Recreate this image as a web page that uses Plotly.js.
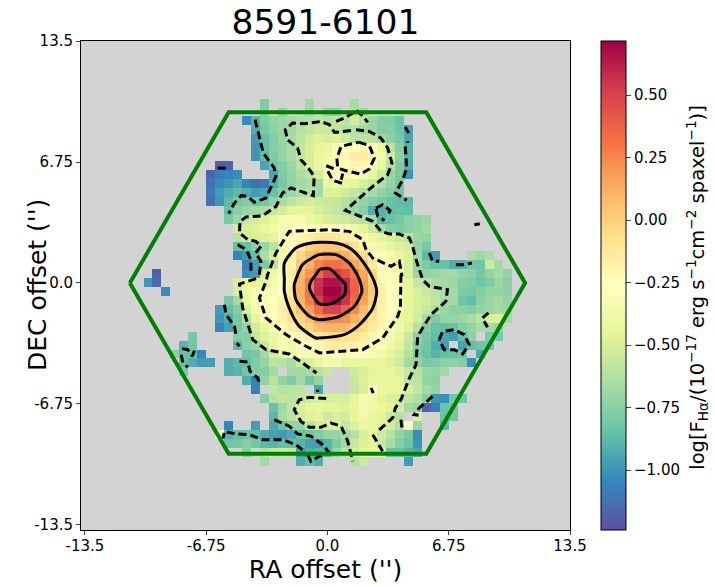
<!DOCTYPE html>
<html>
<head>
<meta charset="utf-8">
<script src="https://cdn.plot.ly/plotly-3.0.1.min.js"></script>
<style>body { margin: 0; background: #fff; }</style>
</head>
<body>
<div id="graph"></div>
<script>
const n = null;

const plateTitle = '8591-6101';
const tickVals = [-13.5, -6.75, 0, 6.75, 13.5];
const xTickText = ['-13.5', '-6.75', '0.0', '6.75', '13.5'];
const yTickText = ['-13.5', '-6.75', '0.0', '6.75', '13.5'];
const barTicks = [-1, -0.75, -0.5, -0.25, 0, 0.25, 0.5];

// spaxel centres in arcsec
const firstX = -13.49;
const firstY = 13.04;
const spaxel = 0.5;
const firstRow = 6;

// first column of each row, from row 6 down
const rowStart = [20, 20, 18, 19, 19, 19, 19, 15, 14, 14, 14, 14, 16, 16, 17, 17, 17, 17, 18, 8, 7, 9, 16, 15, 15, 15, 12, 11, 10, 11, 11, 18, 19, 20, 21, 21, 16, 15, 16, 18, 20];

// log Halpha flux, read by eye from the colours
const rowValues = [
  [-0.78, n, n, n, n, -0.68, n, n, n, n, -0.66],
  [-0.76, n, -0.72, n, n, -0.7, n, -0.74, -0.74, n, -0.62, -0.7],
  [-1.03, -0.9, -0.78, -0.72, -0.7, -0.68, -0.64, -0.62, -0.6, -0.62, -0.58, -0.6, -0.52, -0.6, -0.7, -0.76, -0.78, -0.84],
  [-0.92, -0.8, -0.74, -0.7, -0.68, -0.62, -0.58, -0.55, -0.55, -0.58, -0.62, -0.62, -0.68, -0.7, -0.76, -0.76, -0.82, -0.95],
  [-0.98, -0.85, -0.76, -0.7, -0.66, -0.6, -0.52, -0.48, -0.5, -0.48, -0.55, -0.6, -0.6, -0.62, -0.68, -0.74, -0.8, -0.95],
  [-1.0, -0.85, -0.76, -0.72, -0.66, -0.58, -0.5, -0.45, -0.42, -0.34, -0.26, -0.22, -0.22, -0.28, -0.42, -0.6, -0.76, -0.9],
  [-1.0, -0.88, -0.78, -0.72, -0.66, -0.58, -0.5, -0.42, -0.38, -0.3, -0.22, -0.14, -0.14, -0.22, -0.36, -0.55, -0.74, -0.9],
  [-1.2, -1.18, n, n, n, -0.95, -0.82, -0.76, -0.7, -0.6, -0.5, -0.42, -0.34, -0.3, -0.24, -0.2, -0.22, -0.3, -0.42, -0.62, -0.78, -0.92],
  [-1.17, -1.08, -1.05, -1.03, n, n, n, -0.95, -0.78, -0.72, -0.65, -0.6, -0.52, -0.36, -0.3, -0.32, -0.34, -0.36, -0.44, -0.55, -0.7, -0.8, -1.0],
  [-1.12, -1.03, -1.0, -0.95, -1.05, -1.12, -1.1, -0.92, -0.8, -0.72, -0.68, -0.65, -0.68, -0.42, -0.38, -0.42, -0.46, -0.5, -0.55, -0.64, -0.72, -0.8],
  [-1.1, -0.98, -0.92, -0.88, -0.92, -0.98, -0.95, -0.85, -0.75, -0.7, -0.65, -0.62, -0.68, -0.48, -0.48, -0.52, -0.58, -0.62, -0.68, -0.72, -0.76, -0.82],
  [-1.13, -1.0, -0.88, -0.8, -0.78, -0.82, -0.8, -0.72, -0.66, -0.6, -0.55, -0.52, -0.54, -0.56, -0.58, -0.62, -0.68, -0.72, -0.76, -0.8, -0.84, -0.86, -0.88],
  [-0.85, -0.75, -0.7, -0.68, -0.65, -0.58, -0.52, -0.46, -0.44, -0.46, -0.5, -0.55, -0.58, -0.62, -0.7, -0.75, -0.92, -0.9, -0.86, -0.85, -0.86],
  [-0.8, -0.7, -0.56, -0.52, -0.48, -0.42, -0.34, -0.32, -0.34, -0.4, -0.46, -0.5, -0.52, -0.54, -0.58, -0.62, -0.68, -0.9, -0.85, -0.8, -0.75, -0.72, -0.7],
  [-0.52, -0.5, -0.48, -0.44, -0.38, -0.34, -0.3, -0.28, -0.28, -0.27, -0.26, -0.26, -0.3, -0.38, -0.46, -0.56, -0.68, -0.76, -0.78, -0.75, -0.72, -0.68],
  [-0.6, -0.52, -0.5, -0.48, -0.45, -0.34, -0.26, -0.2, -0.16, -0.1, -0.1, -0.12, -0.16, -0.2, -0.3, -0.42, -0.45, -0.5, -0.55, -0.6, -0.7, -0.72],
  [-0.85, -0.85, -0.75, -0.7, -0.6, -0.38, -0.24, -0.14, -0.02, 0.02, 0.05, 0.03, 0, -0.08, -0.18, -0.34, -0.38, -0.44, -0.48, -0.5, -0.72, -0.8],
  [-1.05, -0.98, -0.85, -0.65, -0.52, -0.35, -0.2, -0.04, 0.07, 0.13, 0.17, 0.16, 0.13, 0.05, -0.06, -0.24, -0.28, -0.34, -0.42, -0.48, -0.7, -0.88, -0.98, n, n, n, -0.65, -0.68, -0.65],
  [-1.08, -0.96, -0.78, -0.6, -0.32, -0.18, 0.02, 0.12, 0.26, 0.32, 0.32, 0.28, 0.16, 0.05, -0.12, -0.26, -0.3, -0.38, -0.5, -0.7, -0.78, -0.85, -0.85, -0.92, -0.9, -0.82, -0.82, -0.55, -0.68],
  [-1.18, n, n, n, n, n, n, n, n, n, -1.03, -0.98, -0.5, -0.4, -0.3, -0.16, 0.08, 0.2, 0.34, 0.52, 0.52, 0.44, 0.3, 0.15, -0.04, -0.24, -0.3, -0.36, -0.5, -0.7, -0.72, -0.7, -0.68, -0.68, -0.72, -0.74, -0.8, -0.72, -0.68, -0.72],
  [-1.0, -1.15, n, n, n, n, n, n, n, n, -0.5, -0.42, -0.45, -0.42, -0.36, -0.3, -0.18, 0.1, 0.28, 0.56, 0.66, 0.66, 0.58, 0.36, 0.18, 0, -0.2, -0.28, -0.32, -0.44, -0.56, -0.62, -0.66, -0.68, -0.7, -0.76, -0.78, -0.82, -0.78, -0.7, -0.75],
  [-1.03, n, n, n, n, n, n, n, -0.52, -0.4, -0.34, -0.34, -0.32, -0.26, -0.14, 0.12, 0.3, 0.58, 0.71, 0.71, 0.6, 0.38, 0.2, 0.02, -0.16, -0.26, -0.34, -0.42, -0.5, -0.56, -0.6, -0.66, -0.68, -0.78, -0.8, -0.76, -0.72, -0.72, -0.74],
  [-0.8, -0.68, -0.42, -0.32, -0.3, -0.26, -0.2, -0.1, 0.1, 0.28, 0.52, 0.66, 0.68, 0.56, 0.34, 0.16, 0, -0.16, -0.26, -0.36, -0.46, -0.5, -0.52, -0.58, -0.66, -0.68, -0.82, -0.86, -0.74, -0.7, -0.68, -0.72],
  [-0.98, -0.86, -0.76, -0.5, -0.36, -0.32, -0.24, -0.16, -0.08, 0.04, 0.18, 0.34, 0.5, 0.5, 0.38, 0.24, 0.08, -0.04, -0.18, -0.28, -0.36, -0.44, -0.5, -0.56, -0.64, -0.7, -0.74, -0.74, -0.76, -0.72, -0.7, -0.68, -0.7],
  [-1.0, -0.92, -0.8, -0.62, -0.46, -0.36, -0.28, -0.18, -0.1, -0.04, 0.06, 0.2, 0.24, 0.24, 0.22, 0.12, 0.02, -0.1, -0.2, -0.3, -0.4, -0.44, -0.52, -0.66, -0.78, -0.72, -0.72, -0.7, -0.66, -0.6, -0.5, -0.48, -0.66],
  [-1.05, -0.96, -0.8, -0.72, -0.52, -0.44, -0.34, -0.24, -0.16, -0.1, -0.02, 0.06, 0.1, 0.1, 0.08, 0.02, -0.06, -0.14, -0.2, -0.32, -0.38, -0.48, -0.62, -0.76, -0.84, -0.86, -0.84, -0.76, -0.72, -0.66, -0.66, -0.72],
  [-0.8, n, n, n, n, -0.76, -0.76, -0.56, -0.48, -0.4, -0.32, -0.26, -0.2, -0.16, -0.1, -0.06, -0.04, -0.08, -0.1, -0.14, -0.2, -0.26, -0.34, -0.42, -0.56, -0.74, -0.8, -0.86, -0.94, -0.98, -0.86, -0.74, n, -0.78, -0.8],
  [-0.9, -0.82, n, n, n, n, -0.88, -0.74, -0.7, -0.54, -0.42, -0.34, -0.36, -0.28, -0.26, -0.22, -0.16, -0.14, -0.16, -0.18, -0.2, -0.24, -0.3, -0.38, -0.46, -0.58, -0.76, -0.82, -0.92, -0.98, n, -0.96, -0.86, -0.82, -0.82],
  [-0.75, -0.85, -0.84, -1.05, n, n, n, n, -0.82, -0.8, -0.68, -0.52, -0.44, -0.38, -0.34, -0.32, -0.3, -0.26, -0.26, -0.28, -0.28, -0.3, -0.32, -0.36, -0.44, -0.5, -0.62, -0.78, -0.84, -0.9, -0.86, -0.84, -0.82, n, -0.95],
  [-0.85, -0.92, -0.98, -0.98, n, -0.92, -0.88, -0.86, -0.78, -0.72, -0.6, -0.62, -0.66, -0.54, -0.5, -0.42, -0.36, -0.36, -0.44, -0.44, -0.42, -0.42, -0.44, -0.48, -0.54, -0.68, -0.72, -0.8, -0.78, -0.74, -0.74, -0.76, -1.02],
  [-0.78, n, n, n, n, -0.92, -0.9, -0.82, -0.76, -0.76, -0.68, n, -0.68, -0.68, -0.66, -0.62, -0.56, n, n, -0.54, -0.5, -0.46, -0.44, -0.44, -0.48, -0.56, -0.62, -0.7, -0.72, -0.68],
  [-0.92, -1.05, -0.72, -0.62, -0.72, -0.78, -0.68, -0.82, -0.72, n, n, n, -0.56, -0.48, -0.42, -0.42, -0.44, -0.44, -0.58, -0.6, -0.72, -0.74],
  [-1.08, n, -0.58, -0.62, -0.6, -0.6, n, -0.95, n, n, n, -0.56, -0.5, -0.28, -0.42, -0.42, -0.44, -0.5, -0.58, -0.68, -0.72],
  [-0.76, -0.62, -0.58, -0.6, -0.56, -0.52, -0.5, -0.5, -0.5, -0.5, -0.44, -0.34, -0.38, -0.46, -0.5, -0.52, -0.58, -0.64, -0.76, -1.0, -1.02, -0.8, -0.82],
  [-0.84, -0.68, -0.58, -0.5, -0.44, -0.42, -0.46, -0.46, -0.48, -0.44, -0.36, -0.38, -0.42, -0.46, -0.52, -0.68, -0.7, -1.18, -1.08, -0.84, -0.82],
  [-0.88, -0.66, -0.6, -0.52, -0.48, -0.46, -0.54, -0.5, -0.52, -0.42, -0.38, -0.42, -0.46, -0.54, -0.62, n, -0.5, n, n, -0.84, -0.82],
  [-1.05, n, n, -0.98, n, -0.94, -0.84, -0.72, -0.72, -0.6, -0.52, -0.5, -0.48, -0.58, -0.48, -0.42, -0.44, -0.46, -0.52, -0.62, -0.28, -0.7, n, n, -0.88],
  [-0.32, -0.9, -0.86, -0.84, -0.86, -0.92, -0.96, -0.98, -0.94, -0.84, -0.82, -0.78, -0.72, -0.72, -0.68, -0.62, -0.5, -0.44, -0.54, -0.62, -0.72, -0.8, -1.02],
  [-0.82, -0.8, -0.76, -0.82, -0.88, -0.9, -0.86, -0.86, -0.9, -0.96, -0.98, -0.9, -0.78, -0.68, -0.56, -0.48, -0.46, -0.56, -0.66, -0.76, -0.84, -1.0],
  [-0.74, n, -0.62, -0.56, -0.54, -0.56, -0.98, -0.92, -0.9, -0.9, -0.7, -0.6, -0.5, -0.46, -0.42, -0.44, -0.85, -0.85, -0.9, -0.95],
  [-0.68, n, n, n, -0.92, -0.86, -0.92, n, n, n, -0.62, -0.55, n, n, n, n, -0.98]
];

// contour lines, in arcsec, null breaks the line
const dashedX = [
  -4.03, -3.79, -3.57, -2.96, -2.87, -3.42, -4.07, -4.44, -4.81, -5.18, -5.5, n,
  -3.79, -3.7, -4.01, -3.7, -3.98, -4.44, -4.9, -4.87, -4.53, -3.61, -2.87, -2.5, -2.03, -0.79, -0.74, -1.11, -1.48, -1.66, -2.22, -2.35, -1.94, -1.29, -0.37, 0.11, 0.39, 1.37, n,
  0.48, 0.94, 1.41, 1.56, 1.96, 2.24, n,
  1.59, 2.33, 2.98, 3.35, 3.59, 3.35, 2.52, 1.68, 1, 2.52, 2.98, 3.44, 4, 4.56, 4.74, 4.93, 5.2, 5.3, 5.67, 6.68, 6.59, 5.76, 5.3, 5.02, 4.93, 4.56, 4.09, 3.78, 3.63, 2.8, n,
  2.52, 3.07, n, 4.09, 4.15, n, 5.85, 5.11, 4.83, 5.07, n,
  1.74, 2.33, 2.61, 2.33, 1.87, 1.13, 0.57, 0.52, 0.76, 1.74, n,
  -0.07, 0.39, n, 0.02, 0.3, 0.94, n, 0.76, 0.85, n,
  2.7, 3.07, 3.48, 3.35, n, 2.7, 2.8, 3.17, n,
  4.33, 4.52, n, 4.46, 4.47, n, 4.33, 4.41, 4.19, 3.78, 4.41, n,
  8.17, 8.48, n, 5.67, 5.85, 6.22, n, 7.15, 7.52, 8.04, n,
  8.63, 8.96, n, 8.72, 8.91, n,
  6.22, 6.41, 7.06, 7.61, 7.89, 7.52, 7.06, 6.5, 6.22, n,
  2.43, 2.55, n,
  4.09, 4.06, 3.91, 3.07, 1.96, -0.45, -1.2, -2.31, -3.42, -3.79, -3.42, -3.33, -2.87, -2.13, 0.1, 1.22, 1.96, 2.15, 2.52, 3.54, 4, 4.15, 4.09, n,
  -5, -4.53, -4.26, -4.26, n,
  -3.98, -4.9, -4.72, -4.35, -4.16, -3.42, -2.13, -1.39, -0.61, n,
  -5.74, -5.64, -5.18, -5.09, n, -5.05, -4.9, n,
  -4.9, -4.44, -4.31, -3.89, -3.79, n,
  -8.09, -7.77, -7.53, -7.4, n, -8.14, -8.05, -7.77, n,
  -2.96, -2.13, -1.66, -0.92, -0.27, 0.1, n,
  -0.07, -1.01, -1.57, -1.85, -1.48, -1.01, -0.37, 0.2, 0.76, 1.13, 1.41, n,
  -5.61, -5.09, -4.35, -3.61, -2.5, -1.76, -1.39, n, -5.74, -5.83, n,
  -1.11, -0.92, -0.46, 0.1, n,
  -6.11, -5.46, n, -0.55, -0.55
];
const dashedY = [
  9.11, 8.18, 7.25, 6.41, 5.95, 4.74, 4.5, 4.83, 4.87, 4.46, 3.87, n,
  0.46, 1.21, 1.67, 2.04, 2.32, 2.42, 2.79, 3.44, 3.68, 3.75, 4.27, 5.02, 5.3, 4.87, 5.95, 6.47, 6.88, 7.53, 7.99, 8.55, 8.92, 8.88, 9.01, 8.83, 8.4, 8.51, n,
  9.01, 9.2, 9.48, 9.66, 9.33, 8.96, n,
  8.55, 8.46, 8.08, 7.53, 6.69, 6.04, 5.39, 4.65, 4.05, 3.44, 2.88, 2.73, 2.73, 2.51, 2.04, 1.3, 0.46, 0.18, -0.19, -0.37, -1.02, -1.77, -2.51, -2.98, -4.56, -5.3, -6.51, -6.97, -7.53, -8.27, n,
  -8.46, -9.39, n, -7.62, -8.12, n, -6.32, -6.97, -7.34, -7.38, n,
  7.86, 7.66, 6.97, 6.36, 6.08, 6.23, 6.41, 6.97, 7.62, 7.86, n,
  6.54, 6.36, n, 6.23, 5.72, 5.52, n, 5.76, 6.1, n,
  4.18, 4.37, 4.05, 3.75, n, 4.13, 3.72, 3.49, n,
  8.7, 8.36, n, 7.9, 7.82, n, 7.62, 6.41, 5.76, 5.02, 4.61, n,
  3.25, 3.31, n, 1.67, 1.21, 1.21, n, 1.02, 1.02, 1.11, n,
  -1.95, -1.67, n, -2.14, -2.47, n,
  -3.16, -2.7, -2.6, -2.88, -3.44, -3.96, -3.72, -3.72, -3.16, n,
  -5.86, -6.14, n,
  0.46, -1.4, -1.86, -3.07, -3.72, -3.9, -3.53, -2.88, -1.95, -0.84, 0.09, 0.46, 1.67, 2.88, 2.97, 2.88, 2.42, 1.86, 1.39, 0.93, 1.21, 0.37, 0.46, n,
  2.14, 1.86, 1.3, 0.46, n,
  0.24, -0.06, -1.4, -2.51, -3.16, -3.72, -3.96, -4.46, -5.02, n,
  -1.21, -1.77, -2.42, -2.88, n, -3.35, -3.53, n,
  -4.37, -4.41, -4.93, -5.3, -5.58, n,
  -3.66, -3.72, -4.09, -3.77, n, -4, -4.46, -4.7, n,
  -7.62, -7.99, -8.42, -8.55, -9.02, -9.48, n,
  -6.45, -6.38, -6.51, -7.07, -7.72, -8.05, -8.05, -7.81, -7.99, -8.83, -9.95, n,
  -8.31, -8.42, -8.46, -8.74, -8.74, -9.02, -9.3, n, -8.37, -8.68, n,
  -9.57, -9.95, -9.67, -9.48, n,
  6.41, 6.41, n, -5.95, -6.08
];
const solidX = [
  -2.4, -2.4, -1.76, -1.11, -0.45, 0.48, 1.31, 1.96, 2.52, 2.74, 2.52, 1.78, 0.94, -0.45, -0.64, -1.57, -2.13, -2.4, -2.4, n,
  -1.76, -1.39, -0.46, 0.48, 1.22, 1.74, 1.91, 1.5, 0.67, -0.45, -1.01, -1.76, -1.85, -1.76, n,
  -0.45, 0.11, 0.67, 1, 0.94, 0.3, -0.45, -1.01, -0.92, -0.64, -0.45
];
const solidY = [
  0.19, 1.11, 1.95, 2.19, 2.27, 2.23, 1.9, 1.21, 0.28, -0.47, -1.4, -2.33, -2.88, -3.07, -3.07, -2.42, -1.4, -0.47, 0.19, n,
  0.19, 1.02, 1.58, 1.58, 1.11, 0.28, -0.47, -1.3, -1.86, -2.05, -1.86, -0.93, -0.09, 0.19, n,
  0.74, 0.8, 0.28, -0.09, -0.65, -1.12, -1.17, -0.28, 0.09, 0.46, 0.74
];

// IFU bundle outline
const hexX = [-11, -5.5, 5.5, 11, 5.5, -5.5, -11];
const hexY = [0, 9.53, 9.53, 0, -9.53, -9.53, 0];

const zMin = -1.24;
const zMax = 0.716;
const spectralR = ['#5e4fa2', '#3288bd', '#66c2a5', '#abdda4', '#e6f598', '#ffffbf', '#fee08b', '#fdae61', '#f46d43', '#d53e4f', '#9e0142'];

function buildGrid() {
    const z = [];
    for (let r = 0; r < 54; r++) {
        const row = new Array(54).fill(null);
        const vals = rowValues[r - firstRow];
        if (vals) {
            vals.forEach((v, i) => { row[rowStart[r - firstRow] + i] = v; });
        }
        z.push(row);
    }
    return z;
}

const xCells = [];
const yCells = [];
for (let i = 0; i < 54; i++) {
    xCells.push(firstX + i * spaxel);
    yCells.push(firstY - i * spaxel);
}

const traces = [
    {
        type: 'heatmap',
        x: xCells,
        y: yCells,
        z: buildGrid(),
        zmin: zMin,
        zmax: zMax,
        colorscale: spectralR.map((c, i) => [i / (spectralR.length - 1), c]),
        hoverongaps: false,
        colorbar: {
            x: 1.0625,
            xanchor: 'left',
            xpad: 0,
            ypad: 0,
            y: 0.5,
            yanchor: 'middle',
            len: 1,
            thickness: 25,
            outlinewidth: 1,
            outlinecolor: '#000',
            tickmode: 'array',
            tickvals: barTicks,
            tickformat: '.2f',
            ticks: 'outside',
            ticklen: 5,
            tickwidth: 1,
            tickfont: { size: 15, color: '#000' },
        },
    },
    { type: 'scatter', mode: 'lines', x: dashedX, y: dashedY, line: { color: '#000', width: 3, dash: '8px,4px' }, showlegend: false },
    { type: 'scatter', mode: 'lines', x: solidX, y: solidY, line: { color: '#000', width: 3, shape: 'spline', smoothing: 0.7 }, showlegend: false },
    { type: 'scatter', mode: 'lines', x: hexX, y: hexY, line: { color: '#008000', width: 4 }, showlegend: false },
];

const fontFamily = '"DejaVu Sans", sans-serif';

const layout = {
    width: 715,
    height: 587,
    margin: { l: 81, r: 145, t: 41, b: 57 },
    font: { family: fontFamily, color: '#000' },
    paper_bgcolor: '#fff',
    plot_bgcolor: '#d3d3d3',
    title: { text: plateTitle, font: { size: 34.5 }, x: 325.5 / 715, xanchor: 'center', y: 0.962, yanchor: 'middle' },
    xaxis: {
        range: [-13.72, 13.5],
        tickmode: 'array',
        tickvals: tickVals,
        ticktext: xTickText,
        ticks: 'outside',
        ticklen: 4,
        ticklabelstandoff: -2,
        tickfont: { size: 15 },
        showgrid: false,
        zeroline: false,
        showline: true,
        mirror: true,
        linecolor: '#000',
        linewidth: 1,
        title: { text: "RA offset ('')", font: { size: 25 }, standoff: 1 },
    },
    yaxis: {
        range: [-13.78, 13.5],
        tickmode: 'array',
        tickvals: tickVals,
        ticktext: yTickText,
        ticks: 'outside',
        ticklen: 4,
        tickfont: { size: 15 },
        showgrid: false,
        zeroline: false,
        showline: true,
        mirror: true,
        linecolor: '#000',
        linewidth: 1,
    },
    annotations: [
        {
            xref: 'paper',
            yref: 'paper',
            x: -0.1226,
            y: 0.5,
            showarrow: false,
            textangle: -90,
            font: { size: 25 },
            text: "DEC offset ('')",
        },
        {
            xref: 'paper',
            yref: 'paper',
            x: 1.292,
            y: 0.497,
            showarrow: false,
            textangle: -90,
            font: { size: 19.5 },
            text: 'log[F<sub>Hα</sub>/(10<sup>−17</sup> erg s<sup>−1</sup>cm<sup>−2</sup> spaxel<sup>−1</sup>)]',
        },
    ],
};

Plotly.newPlot('graph', traces, layout, { displayModeBar: false });
</script>
</body>
</html>
